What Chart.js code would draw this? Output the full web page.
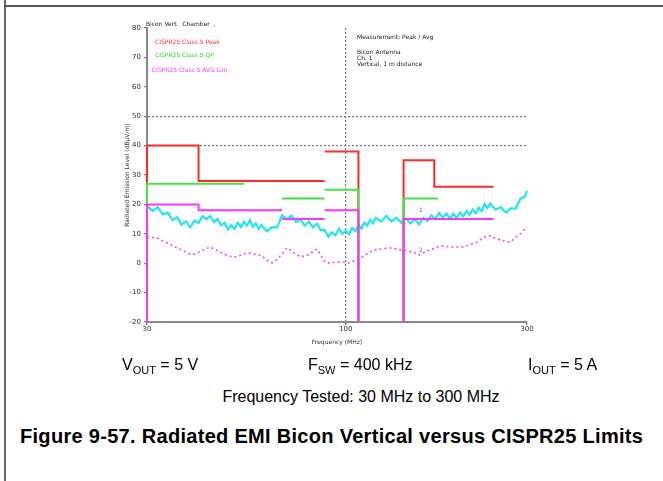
<!DOCTYPE html>
<html>
<head>
<meta charset="utf-8">
<script src="https://cdn.jsdelivr.net/npm/chart.js@4.4.0/dist/chart.umd.min.js"></script>
<style>
  body { margin: 0; background: #fff; font-family: "Liberation Sans", Arial, sans-serif; }
  #page { position: relative; width: 663px; height: 481px; overflow: hidden; }
  #frameLeft { position: absolute; left: 4px; top: 0; width: 2px; height: 481px; background: #666; }
  #frameTop { position: absolute; left: 4px; top: 5px; width: 659px; height: 2px; background: #555; }
  #wrap { position: absolute; left: 0; top: 0; width: 663px; height: 360px; }
  .cap { position: absolute; font-size: 16px; color: #000; white-space: nowrap; }
  .cap sub { font-size: 11px; }
</style>
</head>
<body>
<div id="page">
  <div id="frameLeft"></div>
  <div id="frameTop"></div>
  <div id="wrap"><canvas id="emiChart"></canvas></div>
  <div class="cap" style="left:122px; top:356px;">V<sub>OUT</sub> = 5 V</div>
  <div class="cap" style="left:308px; top:356px;">F<sub>SW</sub> = 400 kHz</div>
  <div class="cap" style="left:528px; top:356px;">I<sub>OUT</sub> = 5 A</div>
  <div class="cap" style="left:0; width:722px; text-align:center; top:388px;">Frequency Tested: 30 MHz to 300 MHz</div>
  <div class="cap" style="left:20px; top:425px; font-size:20px; font-weight:bold; letter-spacing:0.3px;">Figure 9-57. Radiated EMI Bicon Vertical versus CISPR25 Limits</div>
</div>
<script>
// frequency points of the scans (MHz)
const freqMHz = [30, 31, 32, 33, 34, 35, 36, 37, 38, 39, 40, 41, 42, 43, 44, 45, 46, 47, 48, 49,
  50, 51, 52, 53, 54, 55, 56, 57, 58, 59, 60, 62, 64, 66, 68, 70, 72, 74, 76, 78,
  80, 82, 84, 86, 88, 90, 92, 94, 96, 98, 100, 102, 104, 106, 108, 110, 112, 114, 116, 118,
  120, 124, 128, 132, 136, 140, 144, 148, 152, 156, 160, 164, 168, 172, 176, 180, 184, 188, 192, 196,
  200, 204, 208, 212, 216, 220, 224, 228, 232, 236, 240, 248, 256, 264, 272, 280, 288, 296, 300];

// peak scan (cyan), dBuV/m
const peakScan = [19.5, 17.8, 19.0, 16.6, 17.2, 14.7, 15.6, 13.1, 14.2, 12.2, 14.5, 13.7, 16.0, 14.9, 16.1, 14.0, 15.1, 12.9, 13.8, 11.5,
  12.9, 11.7, 13.8, 12.3, 14.1, 12.8, 14.6, 12.4, 13.6, 11.6, 13.0, 10.8, 12.3, 12.2, 16.3, 15.0, 16.2, 14.0, 14.8, 12.8,
  14.1, 12.2, 13.4, 11.2, 11.3, 9.0, 10.5, 9.5, 11.8, 10.0, 11.1, 9.8, 12.0, 10.9, 13.0, 11.7, 13.8, 12.8, 14.8, 13.6,
  15.4, 14.2, 16.1, 14.2, 15.5, 13.8, 15.2, 13.5, 14.9, 13.2, 15.4, 14.4, 16.3, 15.1, 17.1, 15.5, 16.9, 15.2, 16.8, 15.3,
  17.2, 15.9, 17.8, 16.4, 18.3, 17.0, 18.9, 17.7, 20.1, 18.8, 20.3, 18.2, 19.1, 17.2, 18.7, 18.5, 21.9, 22.6, 24.6];

// average scan (magenta dotted), dBuV/m
const avgScan = [8.9, 8.7, 8.5, 7.6, 6.8, 6.0, 5.2, 4.5, 3.7, 3.0, 3.1, 3.7, 4.4, 5.0, 5.5, 4.8, 4.2, 3.6, 3.0, 2.5,
  2.3, 2.1, 2.3, 2.7, 3.1, 3.4, 3.5, 3.2, 2.9, 2.8, 2.6, 1.0, 0.1, 1.2, 3.2, 5.2, 4.2, 3.0, 2.2, 2.5,
  2.9, 4.0, 4.8, 2.8, 0.6, 0.1, 0.2, 0.3, 0.4, 0.4, 0.3, 0.1, 0.5, 1.0, 1.5, 2.0, 2.6, 3.2, 3.8, 4.2,
  4.5, 4.8, 5.1, 5.2, 4.8, 4.5, 4.3, 4.0, 3.5, 2.8, 3.5, 4.2, 4.6, 5.2, 5.8, 5.9, 5.7, 5.5, 5.5, 5.5,
  5.5, 5.6, 5.9, 6.2, 6.6, 6.9, 7.5, 8.3, 8.9, 9.3, 9.3, 8.4, 7.8, 7.3, 7.2, 8.9, 10.0, 11.6, 12.3];

// CISPR25 limit lines (null = gap between bands)
const peakLimitF = [30, 30, 41, 41, 88, 88, 88, 108, 108, 120, 142, 142, 171, 171, 245];
const peakLimitV = [-20, 40, 40, 28, 28, null, 38, 38, -20, null, -20, 35, 35, 26, 26];
const qpLimitF = [30, 30, 54, 60, 68, 88, 88, 88, 108, 108, 120, 142, 142, 175];
const qpLimitV = [-20, 27, 27, null, 22, 22, null, 25, 25, -20, null, -20, 22, 22];
const avgLimitF = [30, 30, 41, 41, 68, 68, 68, 88, 88, 88, 108, 108, 120, 142, 142, 245];
const avgLimitV = [-20, 20, 20, 18, 18, null, 15, 15, null, 18, 18, -20, null, -20, 15, 15];

const xTicks = [30, 100, 300];
const dottedY = [40, 50];
const dottedX = [100];

function pts(fs, vs) {
  return fs.map(function(f, i) { return { x: f, y: vs[i] }; });
}

const notes = {
  id: 'notes',
  afterDraw: function(chart) {
    const ctx = chart.ctx;
    ctx.save();
    ctx.font = '6px "DejaVu Sans"';
    ctx.textBaseline = 'middle';
    ctx.fillStyle = '#222';
    ctx.fillText('Bicon Vert.  Chamber  ,', 146, 24);
    ctx.fillStyle = '#ff2a2a';
    ctx.fillText('CISPR25 Class 5 Peak', 155, 42);
    ctx.fillStyle = '#30d030';
    ctx.fillText('CISPR25 Class 5 QP', 155, 55);
    ctx.fillStyle = '#ff30ff';
    ctx.fillText('. CISPR25 Class 5 AVG Lim', 148, 70);
    ctx.fillStyle = '#222';
    ctx.fillText('Measurement: Peak / Avg', 357, 37);
    ctx.fillText('Bicon Antenna', 357, 52);
    ctx.fillText('Ch. 1', 357, 58);
    ctx.fillText('Vertical, 1 m distance', 357, 64);
    ctx.fillStyle = '#666';
    ctx.fillText('1', 419, 210);
    ctx.fillText('2', 419, 250);
    ctx.restore();
  }
};

document.addEventListener("DOMContentLoaded", function() {
  const ctx = document.getElementById("emiChart").getContext("2d");
  new Chart(ctx, {
    type: 'line',
    data: {
      datasets: [
        { label: 'Avg Limit', data: pts(avgLimitF, avgLimitV), borderColor: '#ff33ff', borderWidth: 2, spanGaps: false },
        { label: 'QP Limit', data: pts(qpLimitF, qpLimitV), borderColor: '#44e044', borderWidth: 2, spanGaps: false },
        { label: 'Peak Limit', data: pts(peakLimitF, peakLimitV), borderColor: '#ff2a2a', borderWidth: 2, spanGaps: false },
        { label: 'Peak', data: pts(freqMHz, peakScan), borderColor: '#22e6ea', borderWidth: 2.2 },
        { label: 'Average', data: pts(freqMHz, avgScan), borderColor: '#ff33ff', borderWidth: 1.5, borderDash: [2, 3] }
      ]
    },
    options: {
      responsive: true,
      maintainAspectRatio: false,
      animation: false,
      layout: { padding: { left: 124, right: 136, top: 28, bottom: 14 } },
      elements: { point: { radius: 0 }, line: { tension: 0 } },
      datasets: { line: { clip: 6 } },
      plugins: { legend: { display: false }, tooltip: { enabled: false } },
      scales: {
        x: {
          type: 'logarithmic',
          min: 30,
          max: 300,
          afterBuildTicks: function(scale) {
            scale.ticks = xTicks.map(function(v) { return { value: v }; });
          },
          afterFit: function(scale) { scale.height = 24; },
          ticks: {
            autoSkip: false, maxRotation: 0, padding: 0,
            font: { size: 7, family: 'DejaVu Sans' }, color: '#333',
            callback: function(v) { return String(v); }
          },
          grid: {
            color: function(c) { return c.tick && dottedX.indexOf(c.tick.value) >= 0 ? '#777' : 'rgba(0,0,0,0)'; },
            lineWidth: 1.2,
            tickColor: '#777',
            tickLength: 3
          },
          border: { display: true, color: '#888', width: 2, dash: [2, 2] },
          title: { display: true, text: 'Frequency (MHz)', font: { size: 6, family: 'DejaVu Sans' }, color: '#333', padding: 0 }
        },
        y: {
          min: -20,
          max: 80,
          afterFit: function(scale) { scale.width = 23; },
          ticks: { stepSize: 10, padding: 3, font: { size: 7, family: 'DejaVu Sans' }, color: '#333' },
          grid: {
            color: function(c) { return c.tick && dottedY.indexOf(c.tick.value) >= 0 ? '#777' : 'rgba(0,0,0,0)'; },
            lineWidth: 1.2,
            tickColor: '#777',
            tickLength: 3
          },
          border: { display: true, color: '#888', width: 2, dash: [2, 2] },
          title: { display: true, text: 'Radiated Emission Level (dBµV/m)', font: { size: 6, family: 'DejaVu Sans' }, color: '#333', padding: 0 }
        }
      }
    },
    plugins: [notes]
  });
});
</script>
</body>
</html>
